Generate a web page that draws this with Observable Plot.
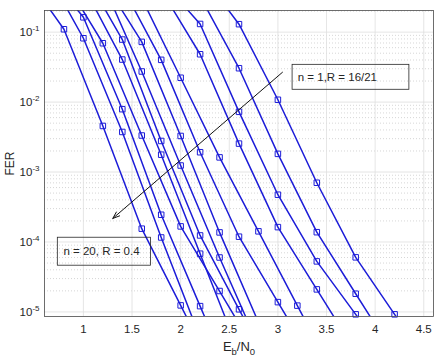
<!DOCTYPE html>
<html>
<head>
<meta charset="utf-8">
<script src="https://cdn.jsdelivr.net/npm/d3@7"></script>
<script src="https://cdn.jsdelivr.net/npm/@observablehq/plot@0.6"></script>
<style>
  html, body { margin: 0; padding: 0; background: #fff; }
  #chart svg { display: block; }
</style>
</head>
<body>
<div id="chart"></div>
<script>
// ---- Data: Eb/N0 (dB) and FER for each curve (first/last point lie outside the visible window) ----
const c01_x = [0.4, 0.8, 1.2, 1.6, 2.0, 2.4];
const c01_fer = [0.67, 0.110, 0.00456, 1.55e-4, 1.24e-5, 1.0e-6];
const c02_x = [0.6, 1.0, 1.4, 1.8, 2.2];
const c02_fer = [0.82, 0.0818, 0.00374, 1.16e-4, 4.3e-6];
const c03_x = [0.6, 1.0, 1.4, 1.8, 2.2, 2.6];
const c03_fer = [0.80, 0.163, 0.00792, 2.45e-4, 1.21e-5, 6e-7];
const c04_x = [0.8, 1.2, 1.6, 2.0, 2.4, 2.8];
const c04_fer = [0.57, 0.0694, 0.00333, 1.67e-4, 1.99e-5, 2.3e-6];
const c05_x = [1.0, 1.4, 1.8, 2.2, 2.6];
const c05_fer = [0.456, 0.0406, 0.00177, 6.8e-5, 2.65e-6];
const c06_x = [1.0, 1.4, 1.8, 2.2, 2.6, 3.0];
const c06_fer = [0.73, 0.0784, 0.00278, 1.24e-4, 1.09e-5, 9.6e-7];
const c07_x = [1.2, 1.6, 2.0, 2.4, 2.8];
const c07_fer = [0.50, 0.0274, 0.00124, 6.0e-5, 3.3e-6];
const c08_x = [1.2, 1.6, 2.0, 2.4, 2.8];
const c08_fer = [0.56, 0.0726, 0.00328, 1.37e-4, 7.1e-6];
const c09_x = [1.4, 1.8, 2.2, 2.6, 3.0, 3.4];
const c09_fer = [0.445, 0.0402, 0.00192, 1.19e-4, 1.38e-5, 1.6e-6];
const c10_x = [1.6, 2.0, 2.4, 2.8, 3.2, 3.6];
const c10_fer = [0.304, 0.0223, 0.00162, 1.42e-4, 1.23e-5, 1.09e-6];
const c11_x = [1.8, 2.2, 2.6, 3.0, 3.4, 3.8];
const c11_fer = [0.40, 0.0483, 0.00255, 1.63e-4, 2.10e-5, 2.7e-6];
const c12_x = [1.8, 2.2, 2.6, 3.0, 3.4, 3.8, 4.2];
const c12_fer = [0.553, 0.131, 0.00726, 4.74e-4, 5.28e-5, 9.24e-6, 1.6e-6];
const c13_x = [2.2, 2.6, 3.0, 3.4, 3.8, 4.2];
const c13_fer = [0.324, 0.0305, 0.00182, 1.38e-4, 1.82e-5, 2.4e-6];
const c14_x = [2.2, 2.6, 3.0, 3.4, 3.8, 4.2, 4.6];
const c14_fer = [0.71, 0.130, 0.0108, 7.03e-4, 6.03e-5, 9.24e-6, 1.4e-6];

// ---- Axis ticks ----
const xTicks = [1, 1.5, 2, 2.5, 3, 3.5, 4, 4.5];
const yTicks = [1e-5, 1e-4, 1e-3, 1e-2, 1e-1];
const xDomain = [0.6, 4.6];
const yDomain = [8.6e-6, 0.204];

// ---- Annotations (data coordinates) ----
const noteText = ["n = 1,R = 16/21", "n = 20, R = 0.4"];
const noteX = [3.204, 0.795];
const noteY = [0.0224, 7.26e-5];
const boxX1 = [3.151, 0.737];
const boxX2 = [4.352, 1.695];
const boxY1 = [0.0150, 4.58e-5];
const boxY2 = [0.0341, 1.15e-4];
const arrowX = [3.047, 1.302];
const arrowY = [0.0267, 2.17e-4];

// ---- Build tables ----
const curves = [
  [c01_x, c01_fer], [c02_x, c02_fer], [c03_x, c03_fer], [c04_x, c04_fer],
  [c05_x, c05_fer], [c06_x, c06_fer], [c07_x, c07_fer], [c08_x, c08_fer],
  [c09_x, c09_fer], [c10_x, c10_fer], [c11_x, c11_fer], [c12_x, c12_fer],
  [c13_x, c13_fer], [c14_x, c14_fer]
];
const rows = curves.flatMap(([xs, fs], i) => xs.map((x, j) => ({curve: i, x, fer: fs[j]})));
const markerRows = rows.filter(d => d.fer >= yDomain[0] && d.fer <= yDomain[1]);
const yMinor = yTicks.flatMap(d => [2,3,4,5,6,7,8,9].map(k => k * d)).filter(v => v >= yDomain[0] && v <= yDomain[1]);
const notes = noteText.map((t, i) => ({t, x: noteX[i], y: noteY[i], x1: boxX1[i], x2: boxX2[i], y1: boxY1[i], y2: boxY2[i]}));
const arrows = [{x1: arrowX[0], y1: arrowY[0], x2: arrowX[1], y2: arrowY[1]}];

const blue = "#1c1cd8";
const ink = "#262626";

const chart = Plot.plot({
  width: 440,
  height: 360,
  marginLeft: 44,
  marginRight: 7,
  marginTop: 10,
  marginBottom: 44,
  style: {fontFamily: "'Liberation Sans', Arial, Helvetica, sans-serif", fontSize: "11px", color: ink, background: "#fff"},
  x: {domain: xDomain},
  y: {type: "log", domain: yDomain},
  marks: [
    Plot.ruleY(yMinor, {stroke: "#c4c4c4", strokeDasharray: "1,2", strokeWidth: 0.7}),
    Plot.gridY(yTicks, {stroke: "#dedede", strokeOpacity: 1, strokeWidth: 0.8}),
    Plot.gridX(xTicks, {stroke: "#dedede", strokeOpacity: 1, strokeWidth: 0.8}),
    Plot.axisX(xTicks, {tickSize: 0, tickPadding: 8, tickFormat: d => String(d), label: "Eb/N0", labelAnchor: "center", labelOffset: 34, labelArrow: "none", fontSize: 11.5}),
    Plot.axisY(yTicks, {tickSize: 0, tickPadding: 5, tickFormat: d => `10^${Math.round(Math.log10(d))}`, label: "FER", labelAnchor: "center", labelOffset: 39, labelArrow: "none", fontSize: 11.5}),
    Plot.line(rows, {x: "x", y: "fer", z: "curve", stroke: blue, strokeWidth: 1.5, clip: true}),
    Plot.dot(markerRows, {x: "x", y: "fer", symbol: "square", r: 3.1, stroke: blue, strokeWidth: 1, fill: "none"}),
    Plot.arrow(arrows, {x1: "x1", y1: "y1", x2: "x2", y2: "y2", stroke: "#111", strokeWidth: 1, headLength: 11, headAngle: 40}),
    Plot.rect(notes, {x1: "x1", x2: "x2", y1: "y1", y2: "y2", fill: "none", stroke: ink, strokeWidth: 0.8}),
    Plot.text(notes, {x: "x", y: "y", text: "t", textAnchor: "start", fontSize: 11.5, fill: ink}),
    Plot.frame({stroke: "#4a4a4a", strokeWidth: 0.8})
  ]
});

// Superscripts for log tick labels and subscripts in the x label
d3.select(chart).selectAll("text").each(function() {
  const t = d3.select(this);
  const s = this.textContent;
  const m = s.match(/^10\^(-?\d+)$/);
  if (m) {
    t.text(null);
    t.append("tspan").text("10");
    t.append("tspan").attr("dy", "-5").attr("font-size", "8px").text(m[1]);
  } else if (s === "Eb/N0") {
    t.text(null).attr("font-size", "13px");
    t.append("tspan").text("E");
    t.append("tspan").attr("dy", "4").attr("font-size", "9.5px").text("b");
    t.append("tspan").attr("dy", "-4").text("/N");
    t.append("tspan").attr("dy", "4").attr("font-size", "9.5px").text("0");
  } else if (s === "FER") {
    t.attr("font-size", "12px");
  }
});

document.getElementById("chart").appendChild(chart);
</script>
</body>
</html>
